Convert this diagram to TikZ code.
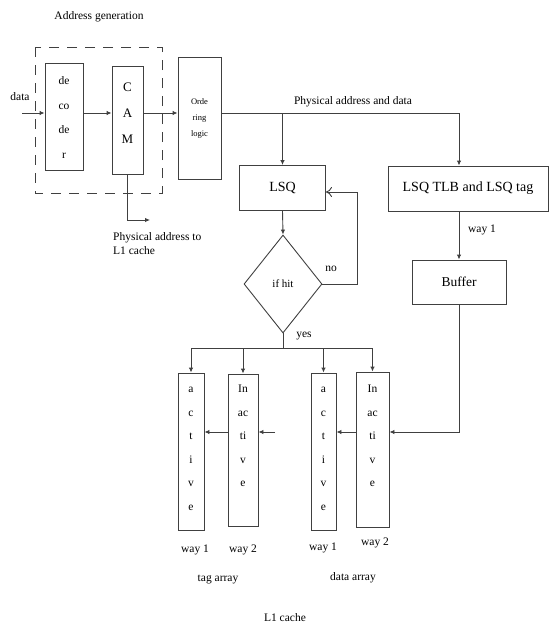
\documentclass[tikz,border=0pt]{standalone}
\usepackage{fontspec}
\setmainfont{Liberation Serif}
\usetikzlibrary{arrows.meta,shapes.geometric}
\tikzset{
  unit/.style={draw=black!75, line width=0.9pt, rectangle, inner sep=0pt},
  wire/.style={draw=black!75, line width=0.9pt},
  flow/.style={wire, -{Latex[length=5pt,width=4.5pt]}},
  back/.style={wire, -{To[length=6pt,width=10pt]}},
  note/.style={font=\fontsize{11.5}{14}\selectfont, inner sep=0pt, align=left},
  letters/.style={align=center, inner sep=0pt, font=\fontsize{11.5}{23.5}\selectfont},
}
\begin{document}
\begin{tikzpicture}[x=1pt,y=-1pt]
    \useasboundingbox (0,0) rectangle (550,624);
    % address generation stage
    \node[note] (addrlbl) at (99,17) {Address generation};
    \draw[wire, dash pattern=on 10pt off 8pt] (35,47) rectangle (162,193);
    \node[unit, minimum width=38pt, minimum height=107pt, align=center,
          font=\fontsize{11.5}{24.5}\selectfont] (decoder) at (64,116.5) {\mbox{}\\[-14.5pt]de\\co\\de\\r};
    \node[unit, minimum width=31pt, minimum height=108pt, align=center,
          font=\fontsize{13}{26}\selectfont] (cam) at (127.5,120) {C\\A\\M\\[-12pt]};
    \node[unit, minimum width=43pt, minimum height=122pt, align=center,
          font=\fontsize{8.5}{16}\selectfont] (order) at (199.5,118) {Orde\\ring\\logic};
    \coordinate (datain) at (22,113);
    \node[note] (datalbl) at (20,97) {data};
    \draw[flow] (datain) -- (datain -| decoder.west);
    \draw[flow] (decoder.east |- datain) -- (cam.west |- datain);
    \draw[flow] (cam.east |- datain) -- (order.west |- datain);
    \coordinate (l1out) at (150,220);
    \draw[flow] (cam.south) |- (l1out);
    \node[note, anchor=north west] (l1lbl) at (113,232) {Physical address to\\L1 cache};

    % LSQ side
    \node[unit, minimum width=86pt, minimum height=45pt, font=\fontsize{14}{16}\selectfont]
          (lsq) at (282.5,188) {LSQ};
    \node[unit, minimum width=160pt, minimum height=45pt, font=\fontsize{14}{16}\selectfont]
          (tlb) at (468,188.5) {LSQ TLB and LSQ tag};
    \node[unit, minimum width=94pt, minimum height=44pt, font=\fontsize{13.5}{16}\selectfont]
          (buffer) at (459,282) {Buffer};
    \node[wire, diamond, minimum width=78pt, minimum height=98pt, inner sep=0pt,
          font=\fontsize{11}{12}\selectfont] (hit) at (283,284) {if hit};
    \draw[wire] (order.east |- datain) -| (lsq.north |- datain);
    \node[note] (physlbl) at (353,102) {Physical address and data};
    \draw[flow] (lsq.north |- datain) -- (lsq.north);
    \draw[flow] (lsq.north |- datain) -| (buffer.north |- tlb.north);
    \draw[flow] (lsq.south) -- (hit.north);
    \coordinate (noturn) at (357,284);
    \draw[back] (hit.east) -- (noturn) |- ([yshift=-4pt]lsq.east);
    \node[note] (nolbl) at (331,269) {no};
    \draw[flow] (buffer.north |- tlb.south) -- (buffer.north);
    \node[note] (waylbl) at (482,230) {way 1};

    % L1 cache ways
    \node[unit, minimum width=26pt, minimum height=157pt] (tag1) at (191,451.5) {};
    \node[unit, minimum width=30pt, minimum height=152pt] (tag2) at (243,450) {};
    \node[unit, minimum width=25pt, minimum height=157pt] (dat1) at (323.5,451.5) {};
    \node[unit, minimum width=33pt, minimum height=155pt] (dat2) at (372.5,449.5) {};
    \node[letters, anchor=north] (tag1txt) at (191,387) {a\\c\\t\\i\\v\\e};
    \node[letters, anchor=north] (tag2txt) at (243,385) {In\\ac\\ti\\v\\e};
    \node[letters, anchor=north] (dat1txt) at (323.5,387) {a\\c\\t\\i\\v\\e};
    \node[letters, anchor=north] (dat2txt) at (372.5,385) {In\\ac\\ti\\v\\e};
    \coordinate (yesbus) at (283,348);
    \draw[wire] (hit.south) -- (yesbus);
    \node[note] (yeslbl) at (304,336) {yes};
    \draw[wire] (tag1.north |- yesbus) -- (dat2.north |- yesbus);
    \foreach \w in {tag1,tag2,dat1,dat2}
        \draw[flow] (\w.north |- yesbus) -- (\w.north);
    \coordinate (bufturn) at (460,432);
    \draw[flow] (buffer.south) |- (bufturn -| dat2.east);
    \draw[flow] (dat2.west |- bufturn) -- (dat1.east |- bufturn);
    \draw[flow] (tag2.west |- bufturn) -- (tag1.east |- bufturn);
    \coordinate (tagin) at (275,432);
    \draw[flow] (tagin) -- (tagin -| tag2.east);

    % labels below
    \node[note] (w11) at (195,550) {way 1};
    \node[note] (w12) at (243,550) {way 2};
    \node[note] (w21) at (323,548) {way 1};
    \node[note] (w22) at (375,543) {way 2};
    \node[note] (taglbl) at (218,579) {tag array};
    \node[note] (datlbl) at (353,578) {data array};
    \node[note] (cachelbl) at (285,618) {L1 cache};
\end{tikzpicture}
\end{document}
